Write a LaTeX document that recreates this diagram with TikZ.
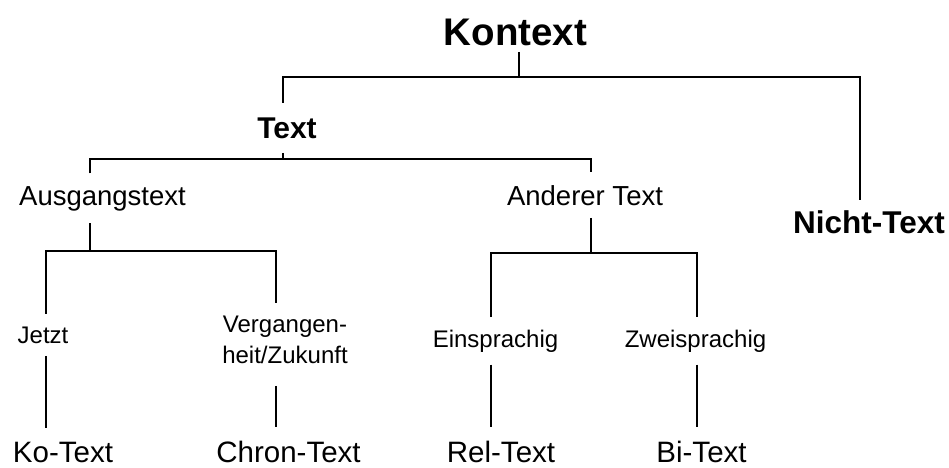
\documentclass[tikz,border=0pt]{standalone}
\usepackage{fontspec}
\setmainfont{Liberation Sans}
\tikzset{
  toplbl/.style={font=\fontsize{38.5}{46}\selectfont\bfseries, inner ysep=6pt},
  boldlbl/.style={font=\fontsize{30}{36}\selectfont\bfseries, inner ysep=14pt},
  nichtlbl/.style={font=\fontsize{31.5}{38}\selectfont\bfseries, inner ysep=10pt},
  plainlbl/.style={font=\fontsize{27.5}{33}\selectfont, inner ysep=12pt},
  smalllbl/.style={font=\fontsize{24}{31}\selectfont, inner ysep=12pt},
  leaflbl/.style={font=\fontsize{29.5}{35}\selectfont, inner ysep=13pt}
}
\begin{document}
\begin{tikzpicture}[x=1pt, y=-1pt, line width=1.2pt,
    every node/.style={inner xsep=0pt, anchor=base}]
    \useasboundingbox (0,0) rectangle (949,467);

    % Labels of the tree
    \node[toplbl] (kontext) at (515.5,45) {Kontext};
    \node[boldlbl] (text) at (287,138) {Text};
    \node[nichtlbl] (nicht) at (869,233) {Nicht-Text};
    \node[plainlbl] (ausgang) at (102.5,205) {Ausgangstext};
    \node[plainlbl] (anderer) at (585,205) {Anderer Text};
    \node[smalllbl] (jetzt) at (43,343) {Jetzt};
    \node[smalllbl, align=center] (vergangen) at (285,363) {Vergangen-\\heit/Zukunft};
    \node[smalllbl] (einspr) at (495.5,347) {Einsprachig};
    \node[smalllbl] (zweispr) at (695.5,347) {Zweisprachig};
    \node[leaflbl] (ko) at (63,462) {Ko-Text};
    \node[leaflbl] (chron) at (288.5,462) {Chron-Text};
    \node[leaflbl] (rel) at (501,462) {Rel-Text};
    \node[leaflbl] (bi) at (701.5,462) {Bi-Text};

    % Branch points and columns of the lines
    \coordinate (kbar) at (519,77);
    \coordinate (tbar) at (283,159);
    \coordinate (abar) at (90,251);
    \coordinate (bbar) at (591,253);
    \coordinate (colT) at (283,0);
    \coordinate (colN) at (860,0);
    \coordinate (colAus) at (90,0);
    \coordinate (colAnd) at (591,0);
    \coordinate (colJ) at (46,0);
    \coordinate (colV) at (276,0);
    \coordinate (colE) at (491,0);
    \coordinate (colZ) at (697,0);

    % Kontext -> Text, Nicht-Text
    \draw (kontext.south -| kbar) -- (kbar);
    \draw (text.north -| colT) |- (kbar) -| (nicht.north -| colN);

    % Text -> Ausgangstext, Anderer Text
    \draw (text.south -| tbar) -- (tbar);
    \draw (ausgang.north -| colAus) |- (tbar) -| (anderer.north -| colAnd);

    % Ausgangstext -> Jetzt, Vergangenheit/Zukunft
    \draw (ausgang.south -| abar) -- (abar);
    \draw (jetzt.north -| colJ) |- (abar) -| (vergangen.north -| colV);

    % Anderer Text -> Einsprachig, Zweisprachig
    \draw (anderer.south -| bbar) -- (bbar);
    \draw (einspr.north -| colE) |- (bbar) -| (zweispr.north -| colZ);

    % Down to the leaves
    \draw (jetzt.south -| colJ) -- (ko.north -| colJ);
    \draw[shorten <=10pt] (vergangen.south -| colV) -- (chron.north -| colV);
    \draw (einspr.south -| colE) -- (rel.north -| colE);
    \draw (zweispr.south -| colZ) -- (bi.north -| colZ);
\end{tikzpicture}
\end{document}
